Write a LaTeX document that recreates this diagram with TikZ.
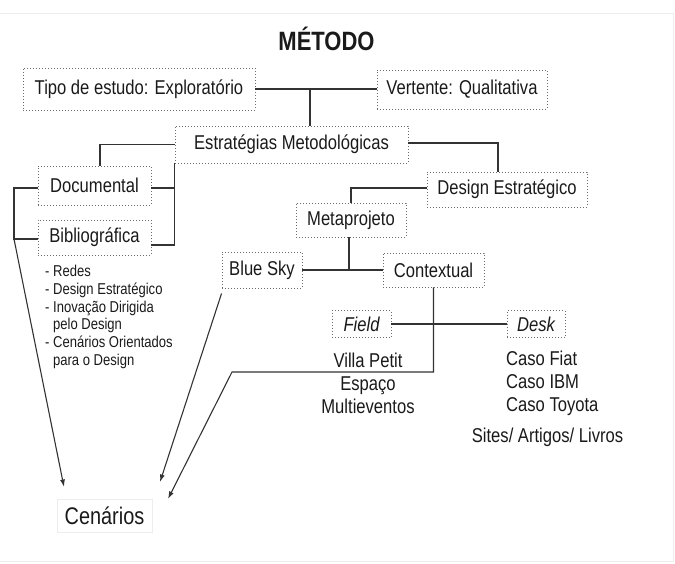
\documentclass[tikz,border=0pt]{standalone}
\usepackage{fontspec}
\setmainfont{Liberation Sans}[FakeStretch=0.83]
\usepackage{xcolor}
\usetikzlibrary{positioning,arrows.meta}
\definecolor{ink}{HTML}{1A1A1A}
\definecolor{wirec}{HTML}{333333}
\definecolor{dotc}{HTML}{6E6E6E}
\definecolor{framec}{HTML}{EDEDED}

\begin{document}
\begin{tikzpicture}[x=1pt, y=-1pt,
  box/.style={draw=dotc, dash pattern=on 0.9pt off 2.1pt, line width=0.9pt, inner sep=0pt, text=ink, font=\fontsize{20}{22}\selectfont},
  lab/.style={text=ink, inner sep=0pt, font=\fontsize{20}{23}\selectfont},
  wire/.style={draw=wirec, line width=1.1pt},
  arr/.style={wire, -{Latex[length=7.5pt, width=5pt]}}]
\useasboundingbox (0,0) rectangle (675,563);
\draw[framec, line width=1pt] (0,13) -- (673,13) -- (673,561) -- (0,561);
% title and top row
\node[lab, font=\bfseries\fontsize{26.5}{28}\selectfont] (title) at (326.5,38.5) {MÉTODO};
\node[box, minimum width=232pt, minimum height=42pt] (tipo) at (139,89) {Tipo de estudo: Exploratório};
\node[box, minimum width=170pt, minimum height=39pt] (vert) at (462,89.5) {Vertente: Qualitativa};
\node[box, minimum width=233pt, minimum height=37pt] (estr) at (291.5,144.5) {Estratégias Metodológicas};
% left branch
\node[box, minimum width=113pt, minimum height=39pt] (doc) at (94.5,185.5) {Documental};
\node[box, minimum width=113pt, minimum height=35pt] (bib) at (94.5,237.5) {Bibliográfica};
\node[lab, font=\fontsize{15.7}{17.8}\selectfont, align=left, anchor=north west] (refs) at (45,265)
  {- Redes\\- Design Estratégico\\- Inovação Dirigida\\\phantom{- }pelo Design\\- Cenários Orientados\\\phantom{- }para o Design};
% right branch
\node[box, minimum width=160pt, minimum height=35pt] (design) at (507,189.5) {Design Estratégico};
\node[box, minimum width=110pt, minimum height=34pt] (meta) at (351,220) {Metaprojeto};
\node[box, minimum width=80pt, minimum height=36pt] (blue) at (262,270) {Blue Sky};
\node[box, minimum width=101pt, minimum height=34pt] (ctx) at (433.5,270) {Contextual};
\node[box, minimum width=59pt, minimum height=27pt, font=\itshape\fontsize{20}{22}\selectfont] (field) at (361.5,324) {Field};
\node[box, minimum width=58pt, minimum height=27pt, font=\itshape\fontsize{20}{22}\selectfont] (desk) at (536,324) {Desk};
\node[lab, align=center] (fieldtxt) at (368,383) {Villa Petit\\Espaço\\Multieventos};
\node[lab, align=left, anchor=west] (desktxt) at (506,383.5) {Caso Fiat\\Caso IBM\\Caso Toyota};
\node[lab] (sites) at (547.5,437) {Sites/ Artigos/ Livros};
\node[lab, draw=framec, line width=0.8pt, minimum width=95pt, minimum height=33pt, font=\fontsize{24}{26}\selectfont] (cen) at (104.5,515.5) {Cenários};
\coordinate (brk) at (14,239);
\coordinate (bend) at (232,372);
\coordinate (tipA) at (64,487);
\coordinate (tipB) at (160,482);
\coordinate (tipC) at (168,499);
% connectors
\draw[wire] (tipo.east) -- (tipo.east -| vert.west);
\draw[wire] ([xshift=18.5pt]estr.north) -- ([xshift=18.5pt]estr.north |- tipo.east);
\draw[wire] (estr.west) -| ([xshift=5.5pt]doc.north);
\draw[wire] (estr.south west) |- ([yshift=-7.5pt]bib.east);
\draw[wire] ([yshift=-2.5pt]doc.east) -- ([yshift=-2.5pt]doc.east -| estr.south west);
\draw[wire] ([yshift=1.5pt]estr.east) -| ([xshift=-9pt]design.north);
\draw[wire] ([yshift=1.5pt]design.west) -| (meta.north);
\draw[wire] ([xshift=-2pt]meta.south) -- ([xshift=-2pt]meta.south |- blue.east);
\draw[wire] (blue.east) -- (ctx.west);
\draw[wire] (field.east) -- (desk.west);
\draw[wire] ([yshift=-2.5pt]doc.west) -| (brk) -- (brk -| bib.west);
\draw[arr] (brk) -- (tipA);
\draw[arr] ([yshift=-5pt]blue.south west) -- (tipB);
\draw[arr] (ctx.south) |- (bend) -- (tipC);
\end{tikzpicture}
\end{document}
